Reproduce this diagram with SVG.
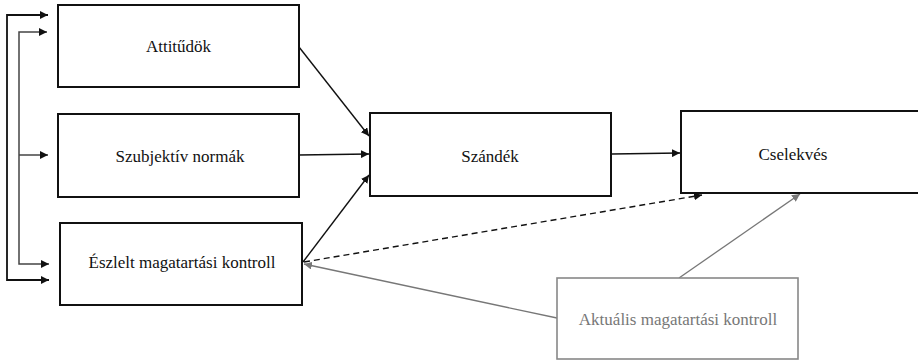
<svg xmlns="http://www.w3.org/2000/svg" width="918" height="360" viewBox="0 0 918 360">
<style>
.box{fill:#fff;stroke:#111;stroke-width:2}
.gbox{fill:#fff;stroke:#888;stroke-width:1.6}
text{font-family:'Liberation Serif','Times New Roman','DejaVu Serif',serif;font-size:17px;fill:#111;text-anchor:middle}
text.gt{fill:#777}
.c{fill:none;stroke:#111;stroke-width:1.4}
.cg{fill:none;stroke:#777;stroke-width:1.3}
.fb{fill:none;stroke:#111;stroke-width:1.8}
.fb2{fill:none;stroke:#444;stroke-width:1.5}
</style>
<defs>
<marker id="ah" viewBox="0 0 10 10" refX="10" refY="5" markerWidth="8" markerHeight="8" markerUnits="userSpaceOnUse" orient="auto-start-reverse"><path d="M0,0 L10,5 L0,10 z" fill="#111"/></marker>
<marker id="ahg" viewBox="0 0 10 10" refX="10" refY="5" markerWidth="8" markerHeight="8" markerUnits="userSpaceOnUse" orient="auto"><path d="M0,0 L10,5 L0,10 z" fill="#777"/></marker>
</defs>
<g id="connectors">
<polyline class="fb" points="48,15 7,15 7,280 49,280" marker-start="url(#ah)" marker-end="url(#ah)"/>
<polyline class="fb2" points="47,32 19,32 19,264 49,264" marker-start="url(#ah)" marker-end="url(#ah)"/>
<line class="fb2" x1="19" y1="155" x2="48" y2="155" marker-end="url(#ah)"/>
<line class="c" x1="299" y1="47" x2="369" y2="136" marker-end="url(#ah)"/>
<line class="c" x1="299" y1="155" x2="369" y2="154" marker-end="url(#ah)"/>
<line class="c" x1="303" y1="262" x2="369" y2="175" marker-end="url(#ah)"/>
<line class="c" x1="612" y1="154" x2="680" y2="153" marker-end="url(#ah)"/>
<line class="c" x1="304" y1="262" x2="702" y2="195" stroke-dasharray="6,4" marker-end="url(#ah)"/>
<line class="cg" x1="557" y1="318" x2="304" y2="264" marker-end="url(#ahg)"/>
<line class="cg" x1="679" y1="278" x2="800" y2="194" marker-end="url(#ahg)"/>
</g>
<g id="attitudok">
<rect class="box" x="58" y="5" width="241" height="82"/>
<text x="178.5" y="52">Attitűdök</text>
</g>
<g id="szubjektiv">
<rect class="box" x="58" y="114" width="241" height="83"/>
<text x="180" y="162">Szubjektív normák</text>
</g>
<g id="eszlelt">
<rect class="box" x="60" y="223" width="242" height="82"/>
<text x="182" y="268">Észlelt magatartási kontroll</text>
</g>
<g id="szandek">
<rect class="box" x="370" y="113" width="241" height="83"/>
<text x="490" y="162">Szándék</text>
</g>
<g id="cselekves">
<rect class="box" x="681" y="111" width="245" height="82"/>
<text x="793" y="160">Cselekvés</text>
</g>
<g id="aktualis">
<rect class="gbox" x="557" y="278" width="241" height="81"/>
<text class="gt" x="678" y="325">Aktuális magatartási kontroll</text>
</g>
</svg>
